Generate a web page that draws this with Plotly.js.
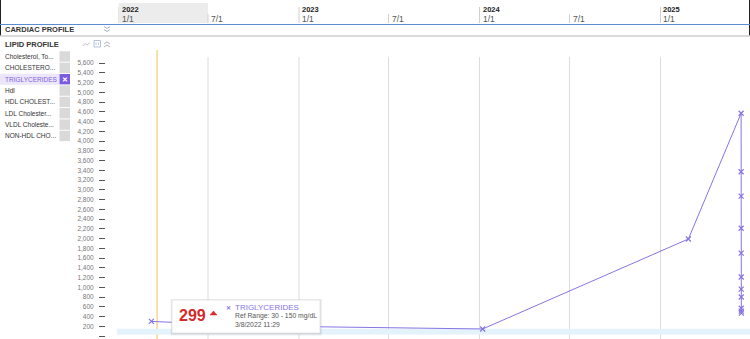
<!DOCTYPE html>
<html>
<head>
<meta charset="utf-8">
<script src="https://cdn.plot.ly/plotly-3.0.1.min.js"></script>
<style>html,body{margin:0;padding:0;background:#fff;}#chart{width:750px;height:339px;}</style>
</head>
<body>
<div id="chart"></div>
<script>
// ---- data ----
const obsDates = ['2022-03-08 11:29','2022-10-14 09:00','2024-01-07 10:00','2025-02-26 10:00',
  '2025-06-13 01:00','2025-06-13 02:00','2025-06-13 03:00','2025-06-13 04:00','2025-06-13 05:00',
  '2025-06-13 06:00','2025-06-13 07:00','2025-06-13 08:00','2025-06-13 09:00','2025-06-13 10:00','2025-06-13 11:00'];
const obsValues = [299, 205, 144, 1990, 4570, 3370, 2870, 2210, 1700, 1210, 960, 800, 570, 510, 470];
const refLow = 30, refHigh = 150;
const headerDates = ['2022-01-01','2022-07-01','2023-01-01','2023-07-01','2024-01-01','2024-07-01','2025-01-01'];
const headerYears = ['2022','','2023','','2024','','2025'];
const headerDays  = ['1/1','7/1','1/1','7/1','1/1','7/1','1/1'];
const selectedDate = '2022-03-20';
const labItems = ['Cholesterol, To...','CHOLESTERO...','TRIGLYCERIDES','Hdl','HDL CHOLEST...','LDL Cholester...','VLDL Choleste...','NON-HDL CHO...'];
const selectedItem = 'TRIGLYCERIDES';
const tipValue = '299', tipName = 'TRIGLYCERIDES', tipRange = 'Ref Range: 30 - 150 mg/dL', tipTime = '3/8/2022 11:29';

// ---- helpers ----
const W = 750, H = 339;
const px = x => x / W;
const py = y => 1 - y / H;
const FONT = 'Liberation Sans, Arial, sans-serif';
const purple = '#8575e6';

const shapes = [];
const ann = [];
function rectP(x0,y0,x1,y1,fill,line){shapes.push({type:'rect',xref:'paper',yref:'paper',x0:px(x0),x1:px(x1),y0:py(y1),y1:py(y0),fillcolor:fill,line:line||{width:0},layer:'below'});}
function lineP(x0,y0,x1,y1,color,w){shapes.push({type:'line',xref:'paper',yref:'paper',x0:px(x0),x1:px(x1),y0:py(y0),y1:py(y1),line:{color:color,width:w||1}});}
function pathP(pts,color,w,fill){let s='';pts.forEach(seg=>{seg.forEach((p,i)=>{s+=(i?'L':'M')+px(p[0]).toFixed(5)+','+py(p[1]).toFixed(5)+' ';});if(fill)s+='Z ';});shapes.push({type:'path',xref:'paper',yref:'paper',path:s.trim(),line:{color:color,width:w||1},fillcolor:fill||'rgba(0,0,0,0)'});}
function textP(x,y,t,size,color,opts){ann.push(Object.assign({xref:'paper',yref:'paper',x:px(x),y:py(y),text:t,showarrow:false,xanchor:'left',yanchor:'middle',font:{family:FONT,size:size,color:color}},opts||{}));}

// frame edges (top band)
lineP(0.5,0,0.5,36,'#222',1);
lineP(749.5,0,749.5,36,'#222',1);

// header
shapes.push({type:'rect',xref:'x',yref:'paper',x0:headerDates[0],x1:headerDates[1],y0:py(23),y1:py(3),fillcolor:'#ececec',line:{width:0},layer:'below'});
headerDates.forEach((d,i)=>{
  shapes.push({type:'line',xref:'x',yref:'paper',x0:d,x1:d,y0:py(23),y1:py(headerYears[i]?7:14),line:{color:'#d0d0d0',width:1}});
  if(headerYears[i]) ann.push({xref:'x',yref:'paper',x:d,y:py(9.5),text:'<b>'+headerYears[i]+'</b>',showarrow:false,xanchor:'left',yanchor:'middle',xshift:1,font:{family:FONT,size:7.5,color:'#222'}});
  ann.push({xref:'x',yref:'paper',x:d,y:py(19),text:headerDays[i],showarrow:false,xanchor:'left',yanchor:'middle',xshift:1,font:{family:FONT,size:8.5,color:'#555'}});
});
lineP(0,24.5,750,24.5,'#5b8bd0',1.2);
lineP(0,36,750,36,'#cfcfcf',1.5);

// section headings
textP(3,29.5,'<b>CARDIAC PROFILE</b>',7.5,'#333');
pathP([[[104,26.5],[107,28.5],[110,26.5]],[[104,29.5],[107,31.5],[110,29.5]]],'#8a9ab8',0.8);
textP(3,44.5,'<b>LIPID PROFILE</b>',7.5,'#333');
pathP([[[83,46],[85,43.5],[87,45],[90,42.5]]],'#b8b8c8',0.8);
rectP(94,40.5,100.5,47,'rgba(0,0,0,0)',{color:'#9fb3d8',width:0.8});
lineP(96,42.5,96,45,'#9fb3d8',0.7);lineP(98.5,42.5,98.5,45,'#9fb3d8',0.7);
pathP([[[104,44],[107,42],[110,44]],[[104,47],[107,45],[110,47]]],'#a0a0b0',0.8);

// lab item list
labItems.forEach((name,i)=>{
  const yc = 56.5 + i*11.35;
  const sel = name === selectedItem;
  if(sel) rectP(0,yc-5.5,59,yc+5.5,'#ece6fb');
  rectP(59.5,yc-5.2,70,yc+5.2, sel ? '#7b5ce0' : '#d9d9d9');
  textP(3,yc,name,6.5, sel ? '#7e62da' : '#333');
  if(sel) textP(64.8,yc,'<b>✕</b>',7,'#fff',{xanchor:'center'});
});

// grid lines & selection line
headerDates.slice(1).forEach(d=>{
  shapes.push({type:'line',xref:'x',yref:'paper',x0:d,x1:d,y0:0,y1:py(57),line:{color:'#dcdcdc',width:1},layer:'below'});
});
shapes.push({type:'line',xref:'x',yref:'paper',x0:selectedDate,x1:selectedDate,y0:0,y1:py(50),line:{color:'#f2c25a',width:1},layer:'below'});
// reference range band
shapes.push({type:'rect',xref:'paper',yref:'y',x0:px(117),x1:1,y0:refLow,y1:refHigh,fillcolor:'#e4f2fb',line:{width:0},layer:'below'});

// tooltip
for(let k=3;k>=1;k--) rectP(172-k*0.5,300-k*0.3,320+k*0.7,333+k*0.9,'rgba(0,0,0,0.045)');
shapes.push({type:'rect',xref:'paper',yref:'paper',x0:px(172),x1:px(320),y0:py(333),y1:py(300),fillcolor:'#fff',line:{color:'#e2e2e2',width:0.8},layer:'above'});
textP(176.5,315,'<b>'+tipValue+'</b>',16,'#d42a2a');
pathP([[[210,315],[213.5,311],[217,315]]],'#d42a2a',0.5,'#d42a2a');
textP(228.5,307.5,'<b>✕</b>',6,purple,{xanchor:'center'});
textP(233,307.5,tipName,8,purple);
textP(233,316,tipRange,6.8,'#555');
textP(233,324,tipTime,6.8,'#555');

const trace = {
  type:'scatter', mode:'lines+markers', x:obsDates, y:obsValues,
  line:{color:purple,width:1}, marker:{symbol:'x-thin',size:5,color:purple,line:{color:purple,width:1.2}},
  hoverinfo:'skip', cliponaxis:false
};

const layout = {
  width:W, height:H, margin:{l:0,r:0,t:0,b:0},
  paper_bgcolor:'#fff', plot_bgcolor:'rgba(0,0,0,0)', showlegend:false,
  xaxis:{type:'date', domain:[118.5/W,1], range:['2022-01-01','2025-07-01'], showgrid:false, zeroline:false,
         showticklabels:false, ticks:'', showline:false, fixedrange:true},
  yaxis:{domain:[0,py(58)], range:[-61.5,5702.5], anchor:'free', position:105/W, side:'left',
         tick0:0, dtick:200, tickformat:',d', ticks:'outside', ticklen:6, tickcolor:'#555', tickwidth:1,
         showgrid:false, zeroline:false, showline:false, ticklabelstandoff:4,
         tickfont:{family:FONT,size:6.5,color:'#777'}, fixedrange:true},
  shapes:shapes, annotations:ann
};

Plotly.newPlot('chart',[trace],layout,{displayModeBar:false,staticPlot:true});
</script>
</body>
</html>
